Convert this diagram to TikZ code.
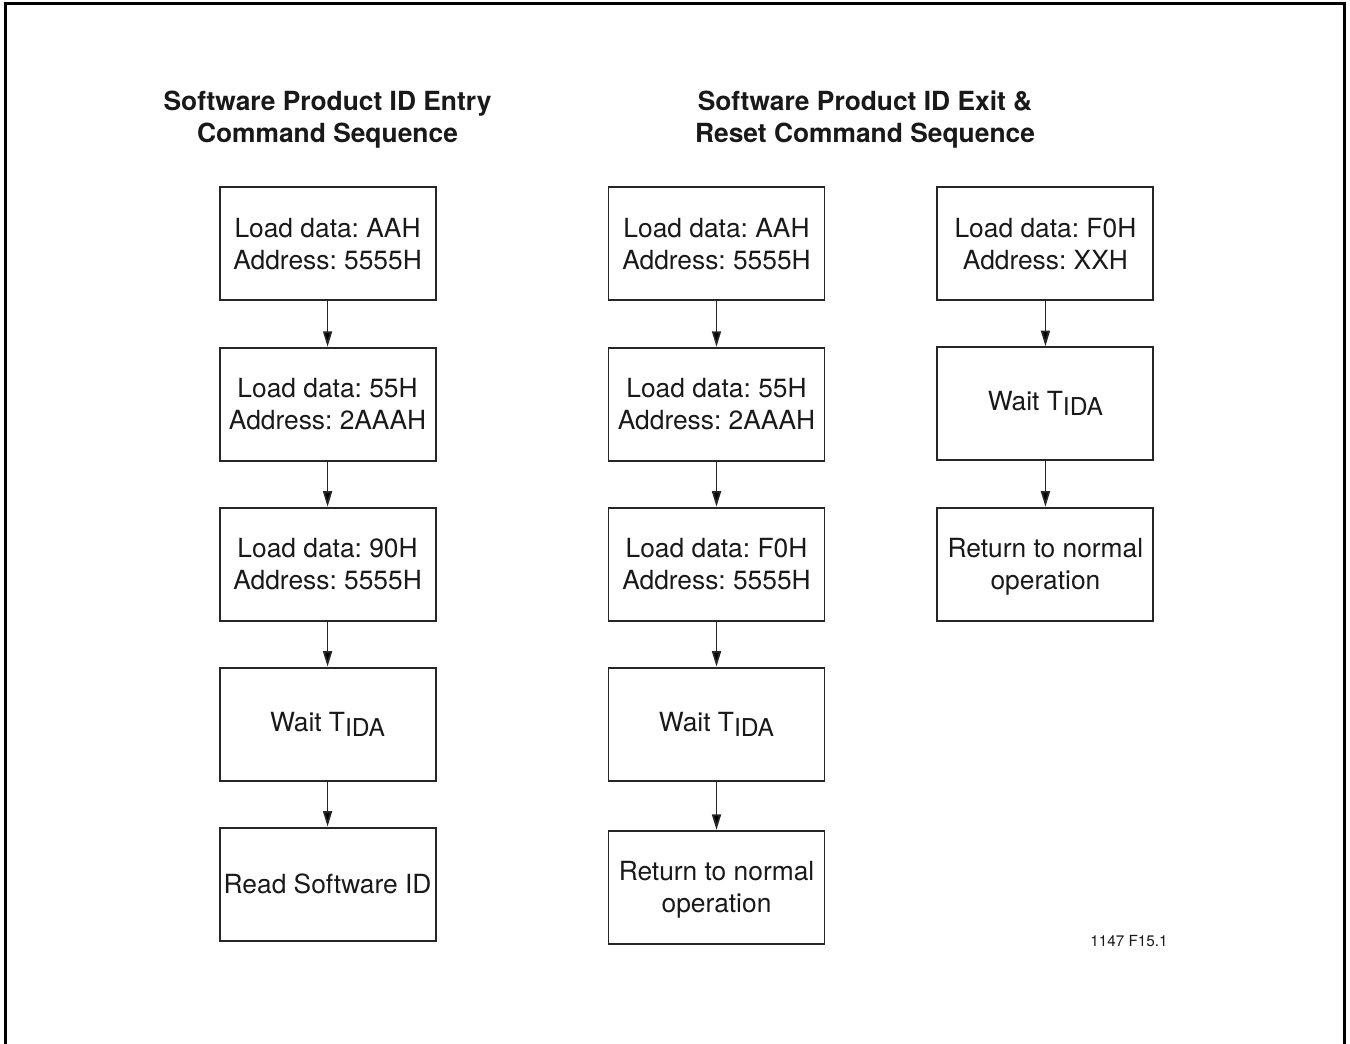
\documentclass[tikz,border=0pt]{standalone}
\usepackage{fontspec}
\setmainfont{TeX Gyre Heros}
\frenchspacing
\usetikzlibrary{matrix,arrows.meta,positioning}
\newcommand{\tida}{T\raisebox{-3pt}{\fontsize{14}{16}\selectfont IDA}}
\newcommand{\twolines}[2]{\begin{tabular}{@{}c@{}}\rule{0pt}{16.1pt}#1\\#2\end{tabular}}

\begin{document}
\begin{tikzpicture}[
    cmdbox/.style={draw=black!85, line width=1.1pt, minimum width=4.32cm, minimum height=2.26cm,
      align=center, inner sep=2pt, text=black!90, font=\fontsize{15}{18.2}\selectfont},
    seqtitle/.style={align=center, inner sep=0pt, text=black!90, font=\bfseries\fontsize{15}{18.2}\selectfont},
    >={Triangle[length=0.31cm,width=0.18cm]}
  ]
  \useasboundingbox (0,0) rectangle (27,20.88);
  % open frame round the figure
  \draw[line width=1.7pt] (0.11,0) -- (0.11,20.8) -- (26.88,20.8) -- (26.88,0);

  \node[seqtitle] (entry title) at (6.55,18.48) {Software Product ID Entry\\Command Sequence};
  \node[seqtitle] (exit title) at (17.3,18.48) {Software Product ID Exit \&\\Reset Command Sequence};

  \matrix (seq) [matrix of nodes, nodes={cmdbox}, row sep=0.90cm, column sep=2.22cm, inner sep=0pt] at (13.73,9.57)
  {
    \twolines{Load data: AAH}{Address: 5555H}&[1.2cm] \twolines{Load data: AAH}{Address: 5555H}& \twolines{Load data: F0H}{Address: XXH}\\
    \twolines{Load data: 55H}{Address: 2AAAH}& \twolines{Load data: 55H}{Address: 2AAAH}& Wait \tida\\
    \twolines{Load data: 90H}{Address: 5555H}& \twolines{Load data: F0H}{Address: 5555H}& \twolines{Return to normal}{operation}\\
    Wait \tida& Wait \tida& \\
    Read Software ID& \twolines{Return to normal}{operation}& \\
  };
  \path[->, line width=1pt, draw=black!85]
    (seq-1-1) edge (seq-2-1)
    (seq-2-1) edge (seq-3-1)
    (seq-3-1) edge (seq-4-1)
    (seq-4-1) edge (seq-5-1)
    (seq-1-2) edge (seq-2-2)
    (seq-2-2) edge (seq-3-2)
    (seq-3-2) edge (seq-4-2)
    (seq-4-2) edge (seq-5-2)
    (seq-1-3) edge (seq-2-3)
    (seq-2-3) edge (seq-3-3);

  \node[anchor=east, inner sep=0pt, text=black!90, font=\fontsize{8.7}{10}\selectfont] (fig id) at (23.36,2.06) {1147 F15.1};
\end{tikzpicture}
\end{document}
